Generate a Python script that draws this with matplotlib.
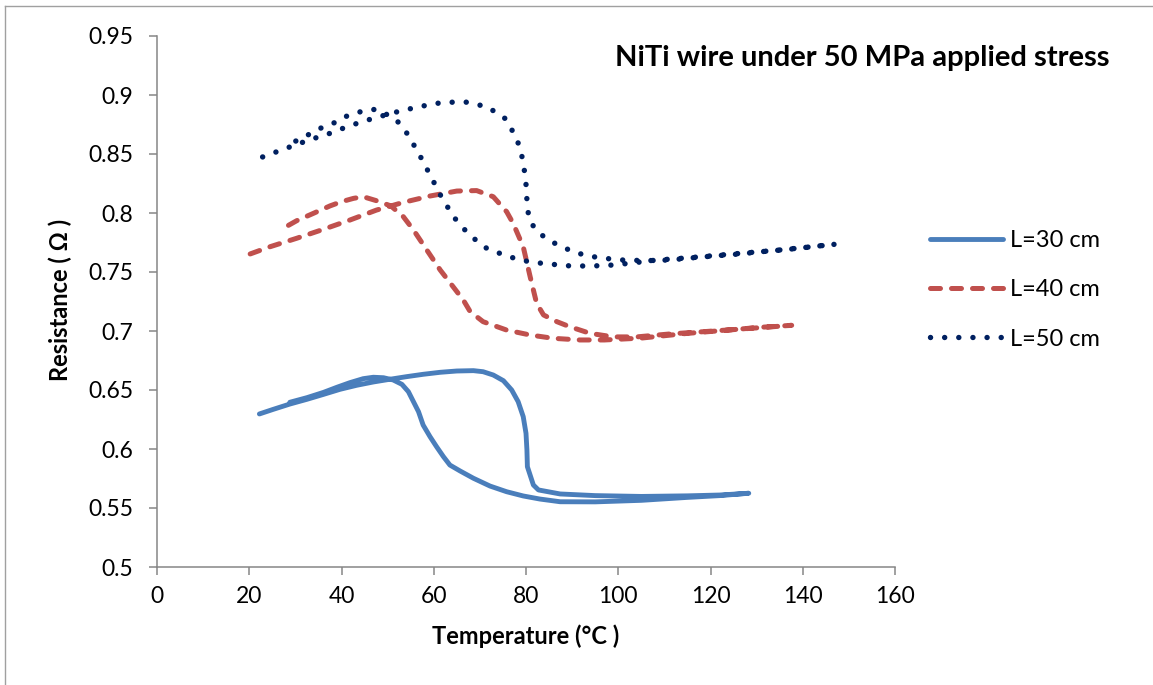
import matplotlib
matplotlib.use("Agg")
import matplotlib.pyplot as plt
from matplotlib.lines import Line2D

plt.rcParams['font.family'] = ['Lato', 'DejaVu Sans']

# L=30 cm : heating branch, then cooling branch back down
t30 = [22.2, 25.2, 28.8, 32.5, 36.1, 39.7, 43.3, 46.9, 50.5, 54.1, 57.7, 61.4, 65.0, 68.6, 70.7,
       72.9, 75.1, 76.9, 78.3, 79.4, 80.0, 80.2, 80.3, 81.6, 82.7, 87.4, 95.0, 105.0, 115.0, 122.0, 128.3,
       122.0, 115.0, 105.0, 95.0, 87.4, 83.0, 79.4, 75.8, 72.2, 68.6, 65.7, 63.5, 62.1, 60.6, 59.2,
       57.7, 56.7, 55.6, 54.5, 53.1, 51.2, 49.1, 46.9, 44.7, 41.8, 39.0, 36.1, 32.5, 28.8]
r30 = [0.6297, 0.6336, 0.6381, 0.6421, 0.6463, 0.6506, 0.654, 0.6568, 0.6591, 0.6613, 0.6633, 0.665,
       0.6661, 0.6664, 0.6655, 0.6627, 0.6579, 0.650, 0.6401, 0.6274, 0.6133, 0.5992, 0.585, 0.5695,
       0.5653, 0.5619, 0.5605, 0.5598, 0.5603, 0.561, 0.5625,
       0.5605, 0.559, 0.5565, 0.5552, 0.5553, 0.5576, 0.5602, 0.5638, 0.5686, 0.5752, 0.5814, 0.5864,
       0.5935, 0.602, 0.6104, 0.6203, 0.6316, 0.6401, 0.6486, 0.6548, 0.6585, 0.6604, 0.6608, 0.6596,
       0.6562, 0.6523, 0.648, 0.6435, 0.6396]

# L=40 cm
t40 = [20.2, 24.5, 30.3, 36.1, 41.8, 47.6, 53.4, 59.2, 65.0, 69.3, 72.9, 75.8, 77.2, 79.4, 80.9, 82.3,
       83.8, 86.7, 89.5, 93.9, 98.9, 104.0, 111.2, 118.4, 125.7, 130.7, 137.6,
       125.7, 115.0, 105.0, 97.0, 91.7, 85.9, 80.9, 75.8, 70.7, 67.9, 66.4, 64.2, 61.4, 58.5, 55.6,
       53.4, 50.7, 47.6, 44.7, 42.6, 40.0, 37.5, 33.9, 30.3, 27.8]
r40 = [0.7653, 0.7714, 0.7786, 0.7862, 0.794, 0.8025, 0.809, 0.8144, 0.8186, 0.819, 0.8138, 0.8011,
       0.7913, 0.7714, 0.746, 0.7235, 0.7136, 0.7079, 0.7036, 0.698, 0.695, 0.695, 0.6975, 0.6994,
       0.7014, 0.7031, 0.7048,
       0.7014, 0.698, 0.694, 0.6924, 0.6924, 0.6938, 0.6966, 0.7008, 0.7079, 0.7164, 0.7263, 0.7375,
       0.7517, 0.7686, 0.7856, 0.7969, 0.806, 0.8104, 0.8138, 0.8124, 0.8096, 0.806, 0.7997, 0.7935, 0.788]

# L=50 cm
t50 = [22.9, 27.4, 33.0, 37.5, 41.8, 46.7, 51.6, 56.7, 61.6, 66.6, 71.6, 75.5, 78.0, 79.4, 80.0, 80.3,
       80.7, 82.0, 83.8, 86.0, 90.6, 95.7, 100.7, 106.2, 111.2, 116.3, 121.3, 126.4, 131.8, 136.9, 141.9, 147.0,
       136.0, 125.0, 115.0, 108.0, 103.6, 98.9, 93.9, 88.8, 83.8, 81.2, 76.2, 71.5, 67.7, 64.4, 61.7,
       59.4, 57.0, 54.5, 53.0, 51.2, 49.1, 47.8, 45.5, 43.1, 40.8, 38.2, 35.7, 33.5, 31.4, 28.7]
r50 = [0.8475, 0.854, 0.8619, 0.8675, 0.874, 0.880, 0.8853, 0.890, 0.8935, 0.8943, 0.890, 0.880, 0.8633,
       0.844, 0.8243, 0.8045, 0.7952, 0.786, 0.7802, 0.7748, 0.7664, 0.7621, 0.7602, 0.7596, 0.7602, 0.7621,
       0.7638, 0.7653, 0.7675, 0.7692, 0.7714, 0.7735,
       0.769, 0.7653, 0.762, 0.760, 0.7579, 0.7559, 0.755, 0.7553, 0.7573, 0.7582, 0.763, 0.770, 0.7814,
       0.7963, 0.8133, 0.8308, 0.8486, 0.8658, 0.874, 0.8816, 0.8845, 0.8879, 0.8873, 0.8847, 0.8816,
       0.876, 0.8723, 0.8678, 0.8633, 0.8585]

labels = ["L=30 cm", "L=40 cm", "L=50 cm"]
xticks = [0, 20, 40, 60, 80, 100, 120, 140, 160]
yticks = [0.5, 0.55, 0.6, 0.65, 0.7, 0.75, 0.8, 0.85, 0.9, 0.95]

fig = plt.figure(figsize=(11.53, 6.85), dpi=100)
ax = fig.add_axes([157 / 1153, 1 - 567 / 685, 738 / 1153, 531 / 685])

ax.plot(t30, r30, color='#4a7ebb', lw=3.5, solid_capstyle='round', solid_joinstyle='round', label=labels[0])
ax.plot(t40, r40, color='#c0504d', lw=3.6, linestyle=(0, (2.0, 2.2)), dash_capstyle='round',
        dash_joinstyle='round', label=labels[1])
ax.plot(t50, r50, color='#002060', lw=3.9, linestyle=(0, (0.01, 2.6)), dash_capstyle='round',
        label=labels[2])

ax.set_xlim(0, 160)
ax.set_ylim(0.5, 0.95)
ax.set_xticks(xticks)
ax.set_yticks(yticks)
ax.set_xticklabels([str(v) for v in xticks])
ax.set_yticklabels([f"{v:g}" for v in yticks])

for s in ['top', 'right']:
    ax.spines[s].set_visible(False)
for s in ['left', 'bottom']:
    ax.spines[s].set_color('#868686')
    ax.spines[s].set_linewidth(1.1)
ax.tick_params(direction='out', length=6, width=1.1, color='#868686', labelsize=16.5)
ax.tick_params(axis='y', pad=11)
ax.tick_params(axis='x', pad=8)

ax.set_xlabel("Temperature (°C )", fontsize=17, fontweight='bold')
ax.xaxis.set_label_coords(0.5, -0.108)
ax.set_ylabel("Resistance ( Ω )", fontsize=17, fontweight='bold')
ax.yaxis.set_label_coords(-0.115, 0.503)

fig.text(862 / 1153, 1 - 58 / 685, "NiTi wire under 50 MPa applied stress", fontsize=21,
         fontweight='bold', ha='center', va='center')

fig.legend(loc='upper left', bbox_to_anchor=(930 / 1153, 1 - 230 / 685), frameon=False,
           fontsize=17, handlelength=3.1, handletextpad=0.3, labelspacing=1.2,
           borderpad=0, borderaxespad=0)

# thin frame of the chart area
fig.add_artist(Line2D([5 / 1153, 5 / 1153], [0, 1 - 6 / 685], transform=fig.transFigure,
                      color='#a0a0a0', lw=1.0))
fig.add_artist(Line2D([5 / 1153, 1], [1 - 6 / 685, 1 - 6 / 685], transform=fig.transFigure,
                      color='#a0a0a0', lw=1.0))

fig.savefig("out.png", dpi=100)
